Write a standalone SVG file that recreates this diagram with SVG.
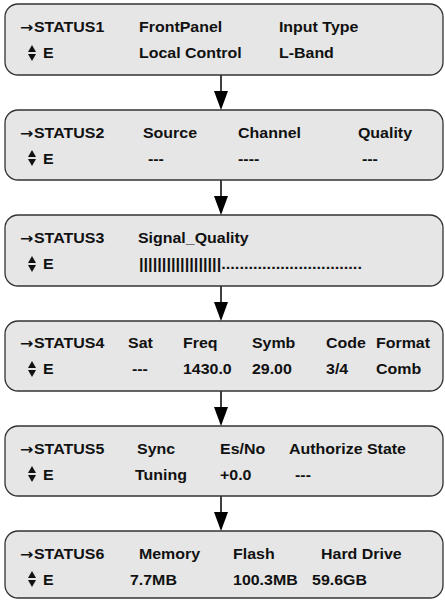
<svg xmlns="http://www.w3.org/2000/svg" xmlns:xlink="http://www.w3.org/1999/xlink" width="445" height="600" viewBox="0 0 445 600">
<style>
.box{fill:#e6e6e6;stroke:#333;stroke-width:1.3}
text{font-family:"Liberation Sans",Arial,sans-serif;font-weight:bold;font-size:14px;fill:#111}
.ar{font-family:"DejaVu Sans",sans-serif;font-size:14px}
.conn line{stroke:#000;stroke-width:1.5}
.conn polygon{fill:#000}
</style>
<defs>
<g id="updown"><polygon points="-4,-1 4,-1 0,-8" fill="#111"/><polygon points="-4,1 4,1 0,8" fill="#111"/></g>
</defs>

<g id="connectors" class="conn">
<line x1="221" y1="75" x2="221" y2="95"/><polygon points="214,91 228,91 221,110"/>
<line x1="221" y1="180" x2="221" y2="200"/><polygon points="214,196 228,196 221,215"/>
<line x1="221" y1="286" x2="221" y2="306"/><polygon points="214,302 228,302 221,321"/>
<line x1="221" y1="391" x2="221" y2="411"/><polygon points="214,407 228,407 221,426"/>
<line x1="221" y1="496" x2="221" y2="516"/><polygon points="214,512 228,512 221,531"/>
</g>

<g id="status1">
<rect class="box" x="5" y="4" width="438" height="71" rx="13"/>
<use xlink:href="#updown" x="32" y="53"/>
<g transform="scale(1.14,1)">
<text x="17.5" y="32"><tspan class="ar">→</tspan><tspan x="29.8">STATUS1</tspan></text>
<text x="121.9" y="32">FrontPanel</text>
<text x="244.7" y="32">Input Type</text>
<text x="37.7" y="58">E</text>
<text x="121.9" y="58">Local Control</text>
<text x="244.7" y="58">L-Band</text>
</g>
</g>

<g id="status2">
<rect class="box" x="5" y="110" width="438" height="70" rx="13"/>
<use xlink:href="#updown" x="32" y="158"/>
<g transform="scale(1.14,1)">
<text x="17.5" y="138"><tspan class="ar">→</tspan><tspan x="29.8">STATUS2</tspan></text>
<text x="125.4" y="138">Source</text>
<text x="208.8" y="138">Channel</text>
<text x="314" y="138">Quality</text>
<text x="37.7" y="164">E</text>
<text x="129.8" y="164">---</text>
<text x="208.8" y="164">----</text>
<text x="317.5" y="164">---</text>
</g>
</g>

<g id="status3">
<rect class="box" x="5" y="215" width="438" height="71" rx="13"/>
<use xlink:href="#updown" x="32" y="264"/>
<g transform="scale(1.14,1)">
<text x="17.5" y="243"><tspan class="ar">→</tspan><tspan x="29.8">STATUS3</tspan></text>
<text x="121" y="243">Signal_Quality</text>
<text x="37.7" y="269">E</text>
<text x="121.9" y="269" textLength="195.6" lengthAdjust="spacingAndGlyphs">||||||||||||||||||...............................</text>
</g>
</g>

<g id="status4">
<rect class="box" x="5" y="321" width="438" height="70" rx="13"/>
<use xlink:href="#updown" x="32" y="369"/>
<g transform="scale(1.14,1)">
<text x="17.5" y="348.5"><tspan class="ar">→</tspan><tspan x="29.8">STATUS4</tspan></text>
<text x="112.3" y="348.5">Sat</text>
<text x="160.5" y="348.5">Freq</text>
<text x="221" y="348.5">Symb</text>
<text x="286" y="348.5">Code</text>
<text x="329.8" y="348.5">Format</text>
<text x="37.7" y="374.5">E</text>
<text x="115.8" y="374.5">---</text>
<text x="160.5" y="374.5">1430.0</text>
<text x="221" y="374.5">29.00</text>
<text x="286" y="374.5">3/4</text>
<text x="329.8" y="374.5">Comb</text>
</g>
</g>

<g id="status5">
<rect class="box" x="5" y="426" width="438" height="70" rx="13"/>
<use xlink:href="#updown" x="32" y="474"/>
<g transform="scale(1.14,1)">
<text x="17.5" y="454"><tspan class="ar">→</tspan><tspan x="29.8">STATUS5</tspan></text>
<text x="120.2" y="454">Sync</text>
<text x="193" y="454">Es/No</text>
<text x="253.5" y="454">Authorize State</text>
<text x="37.7" y="480">E</text>
<text x="118.4" y="480">Tuning</text>
<text x="193" y="480">+0.0</text>
<text x="258.8" y="480">---</text>
</g>
</g>

<g id="status6">
<rect class="box" x="5" y="531" width="438" height="67" rx="13"/>
<use xlink:href="#updown" x="32" y="579"/>
<g transform="scale(1.14,1)">
<text x="17.5" y="559"><tspan class="ar">→</tspan><tspan x="29.8">STATUS6</tspan></text>
<text x="121.9" y="559">Memory</text>
<text x="204.4" y="559">Flash</text>
<text x="281.6" y="559">Hard Drive</text>
<text x="37.7" y="585">E</text>
<text x="114" y="585">7.7MB</text>
<text x="204.4" y="585">100.3MB</text>
<text x="273.7" y="585">59.6GB</text>
</g>
</g>
</svg>
